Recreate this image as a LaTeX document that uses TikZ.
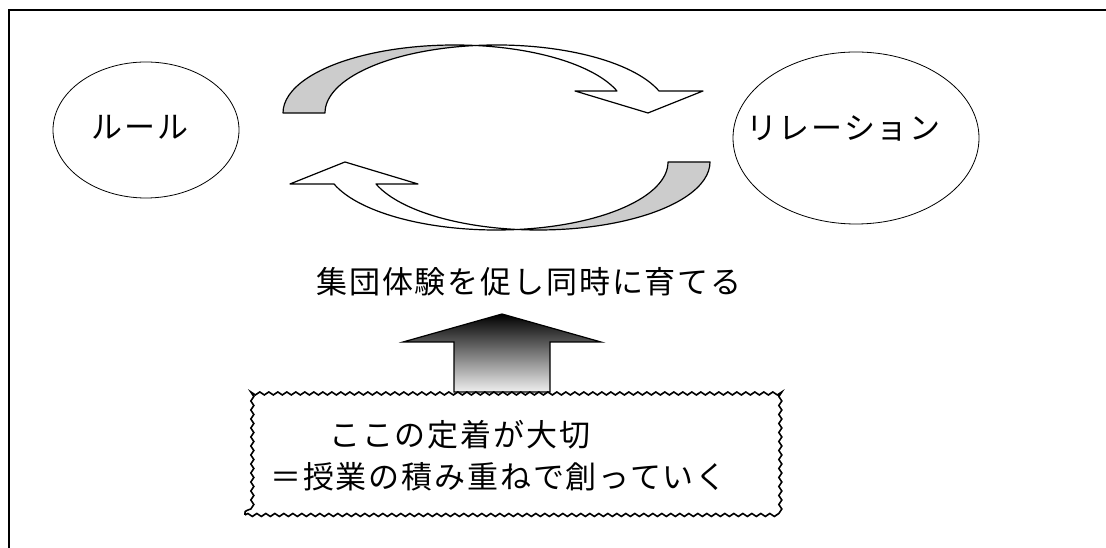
\documentclass[tikz,border=0pt]{standalone}
\usepackage{fontspec}
\newfontfamily\jp[LetterSpace=6]{Noto Sans CJK JP}
\usetikzlibrary{shapes.geometric,decorations.pathmorphing}
\begin{document}
\begin{tikzpicture}[x=1pt,y=1pt,
  jptext/.style={font=\jp\fontsize{31}{36}\selectfont, inner sep=0pt},
  bubble/.style={draw, ellipse, line width=0.8pt, inner sep=0pt},
  band/.style={draw, line width=1.2pt, line join=round},
  backside/.style={band, fill=gray!40},
  frontside/.style={band, fill=white},
]
\useasboundingbox (0,0) rectangle (1106,548);
\begin{scope}
  \clip (0,0) rectangle (1106,548);
  \draw[line width=2pt] (8.5,-10) rectangle (1200,537.5);
\end{scope}

% ellipses
\node[bubble, minimum width=186pt, minimum height=136pt] (rule) at (146,418) {};
\node[bubble, minimum width=246pt, minimum height=172pt] (relation) at (856,410) {};

% upper curved arrow
\path[backside] (283,435) arc[start angle=180, end angle=82.97, x radius=171.6pt, y radius=68pt]
  arc[start angle=97.03, end angle=180, x radius=171.6pt, y radius=68pt] -- cycle;
\path[frontside] (475.6,502.5) arc[start angle=82.97, end angle=18.87, x radius=171.6pt, y radius=68pt]
  -- (575,457) -- (648,435) -- (703,457) -- (659,457)
  arc[start angle=18.87, end angle=97.03, x radius=171.6pt, y radius=68pt] -- cycle;

% lower curved arrow
\path[backside] (710,386) arc[start angle=360, end angle=262.97, x radius=171.6pt, y radius=68pt]
  arc[start angle=277.03, end angle=360, x radius=171.6pt, y radius=68pt] -- cycle;
\path[frontside] (517.4,318.5) arc[start angle=262.97, end angle=198.87, x radius=171.6pt, y radius=68pt]
  -- (418,364) -- (345,386) -- (290,364) -- (334,364)
  arc[start angle=198.87, end angle=277.03, x radius=171.6pt, y radius=68pt] -- cycle;

% block arrow up
\path[draw, line width=1.2pt, line join=miter, top color=black, bottom color=white!94!black]
  (454,156) -- (454,206) -- (403,206) -- (502,234) -- (601,206) -- (550,206) -- (550,156) -- cycle;

% wavy box
\node[draw, line width=1.6pt, fill=white, decorate,
  decoration={snake, segment length=9pt, amplitude=1.5pt},
  minimum width=532pt, minimum height=122pt] (box) at (511,94) {};

% texts
\node[jptext, anchor=base] (t1) at (140,409) {ルール};
\node[jptext, anchor=base] (t2) at (843.5,408) {リレーション};
\node[jptext, anchor=base] (t3) at (529,254) {集団体験を促し同時に育てる};
\node[jptext, anchor=base west] (t4) at (329,101) {ここの定着が大切};
\node[jptext, anchor=base west] (t5) at (270,59) {＝授業の積み重ねで創っていく};
\end{tikzpicture}
\end{document}
